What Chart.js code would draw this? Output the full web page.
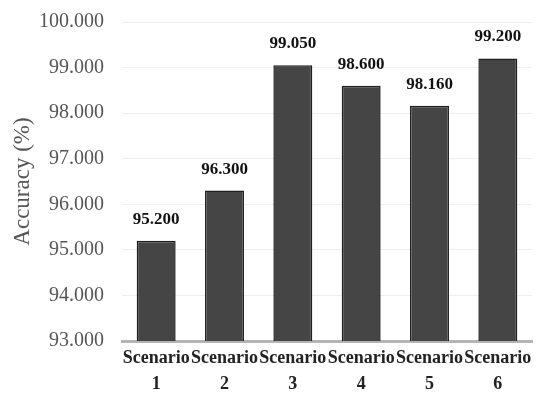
<!DOCTYPE html>
<html>
<head>
<meta charset="utf-8">
<script src="https://cdn.jsdelivr.net/npm/chart.js@4"></script>
<style>
  body { margin: 0; background: #fff; }
  #wrap { width: 536px; height: 395px; }
</style>
</head>
<body>
<div id="wrap"><canvas id="accChart"></canvas></div>
<script>
const scenarios = [["Scenario", "1"], ["Scenario", "2"], ["Scenario", "3"], ["Scenario", "4"], ["Scenario", "5"], ["Scenario", "6"]];
const accuracy = [95.2, 96.3, 99.05, 98.6, 98.16, 99.2];
const yTicks = [93, 94, 95, 96, 97, 98, 99, 100];

const font = "'Liberation Serif', 'Times New Roman', serif";

// draw the value on top of each bar
const valueLabels = {
  id: "valueLabels",
  afterDatasetsDraw(chart) {
    const ctx = chart.ctx;
    const meta = chart.getDatasetMeta(0);
    ctx.save();
    ctx.font = "bold 17px " + font;
    ctx.fillStyle = "#111";
    ctx.textAlign = "center";
    ctx.textBaseline = "bottom";
    meta.data.forEach((bar, i) => {
      ctx.fillText(accuracy[i].toFixed(3), bar.x, bar.y - 13);
    });
    ctx.restore();
  },
};

new Chart(document.getElementById("accChart"), {
  type: "bar",
  data: {
    labels: scenarios,
    datasets: [
      {
        data: accuracy,
        backgroundColor: "#454545",
        borderColor: "#1f1f1f",
        borderWidth: 1.5,
        categoryPercentage: 1,
        barPercentage: 0.57,
      },
    ],
  },
  options: {
    responsive: true,
    maintainAspectRatio: false,
    animation: false,
    layout: { padding: { top: 22, right: 4, left: 0, bottom: 0 } },
    plugins: { legend: { display: false }, tooltip: { enabled: false } },
    scales: {
      x: {
        grid: { display: false },
        border: { color: "#b4b4b4", width: 3 },
        afterFit: (scale) => {
          scale.height = 54;
        },
        ticks: {
          color: "#222",
          font: { family: font, size: 18, weight: "bold", lineHeight: 1.45 },
          padding: -4,
          maxRotation: 0,
          autoSkip: false,
        },
      },
      y: {
        min: 93,
        max: 100,
        afterBuildTicks: (axis) => {
          axis.ticks = yTicks.map((v) => ({ value: v }));
        },
        afterFit: (scale) => {
          scale.width = 122;
          scale.paddingTop = 0;
        },
        grid: { color: "#eeeeee", drawTicks: false },
        border: { display: false },
        ticks: {
          color: "#555",
          font: { family: font, size: 20 },
          padding: 18,
          callback: (v) => Number(v).toFixed(3),
        },
        title: {
          display: true,
          text: "Accuracy (%)",
          color: "#555",
          font: { family: font, size: 23 },
          padding: { top: 9, bottom: 0 },
        },
      },
    },
  },
  plugins: [valueLabels],
});
</script>
</body>
</html>
